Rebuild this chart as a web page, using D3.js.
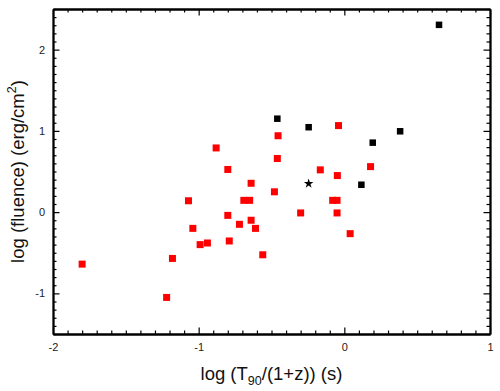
<!DOCTYPE html>
<html><head><meta charset="utf-8">
<script src="https://cdn.jsdelivr.net/npm/d3@7"></script>
<style>body{margin:0;background:#fff}svg{display:block}</style>
</head><body>
<svg id="c" width="500" height="391"></svg>
<script>
// Data (log T90/(1+z), log fluence)
const redX = [-1.80,-1.22,-1.18,-1.07,-1.04,-0.99,-0.94,-0.88,-0.80,-0.80,-0.79,-0.72,-0.69,-0.65,-0.64,-0.64,-0.61,-0.56,-0.48,-0.46,-0.455,-0.30,-0.165,-0.08,-0.05,-0.05,-0.048,-0.04,0.04,0.18];
const redY = [-0.64,-1.05,-0.57,0.14,-0.20,-0.40,-0.38,0.79,0.525,-0.04,-0.355,-0.15,0.145,0.145,0.355,-0.10,-0.20,-0.525,0.25,0.66,0.94,-0.01,0.52,0.145,0.145,-0.01,0.45,1.065,-0.265,0.56];
const blackX = [-0.46,-0.245,0.195,0.117,0.383,0.65];
const blackY = [1.15,1.045,0.855,0.337,0.995,2.305];
const starX = [-0.245];
const starY = [0.357];
const xMajor = [-2,-1,0,1];
const yMajor = [-1,0,1,2];

const W=500,H=391;
const m={l:53,r:10,t:9,b:57};
const svg=d3.select("#c");
const x=d3.scaleLinear().domain([-2,1]).range([m.l,W-m.r]);
const y=d3.scaleLinear().domain([-1.5,2.5]).range([H-m.b,m.t]);
const x0=m.l,x1=W-m.r,y0=H-m.b,y1=m.t;

const xMinor=d3.range(-20,11).map(d=>d/10).filter(d=>!xMajor.includes(Math.round(d*10)/10));
const yMinor=d3.range(-15,26).map(d=>d/10).filter(d=>!yMajor.includes(Math.round(d*10)/10));
const fmt=d=>String(d);

function styleAxis(g){
  g.selectAll("path.domain").attr("stroke","#000").attr("stroke-width",1.8);
  g.selectAll(".tick line").attr("stroke","#000").attr("stroke-width",1.2);
  g.selectAll(".tick text").attr("fill","#222").style("font-family","Liberation Sans, Arial, sans-serif").style("font-size","11px");
}
// bottom
svg.append("g").attr("transform",`translate(0,${y0})`).call(d3.axisBottom(x).tickValues(xMinor).tickSize(-3.5).tickSizeOuter(0).tickFormat("")).call(styleAxis);
svg.append("g").attr("transform",`translate(0,${y0})`).call(d3.axisBottom(x).tickValues(xMajor).tickSize(-6.5).tickSizeOuter(0).tickPadding(9).tickFormat(fmt)).call(styleAxis);
// top
svg.append("g").attr("transform",`translate(0,${y1})`).call(d3.axisTop(x).tickValues(xMinor).tickSize(-3.5).tickSizeOuter(0).tickFormat("")).call(styleAxis);
svg.append("g").attr("transform",`translate(0,${y1})`).call(d3.axisTop(x).tickValues(xMajor).tickSize(-6.5).tickSizeOuter(0).tickFormat("")).call(styleAxis);
// left
svg.append("g").attr("transform",`translate(${x0},0)`).call(d3.axisLeft(y).tickValues(yMinor).tickSize(-3.5).tickSizeOuter(0).tickFormat("")).call(styleAxis);
svg.append("g").attr("transform",`translate(${x0},0)`).call(d3.axisLeft(y).tickValues(yMajor).tickSize(-6.5).tickSizeOuter(0).tickPadding(8).tickFormat(fmt)).call(styleAxis);
// right
svg.append("g").attr("transform",`translate(${x1},0)`).call(d3.axisRight(y).tickValues(yMinor).tickSize(-3.5).tickSizeOuter(0).tickFormat("")).call(styleAxis);
svg.append("g").attr("transform",`translate(${x1},0)`).call(d3.axisRight(y).tickValues(yMajor).tickSize(-6.5).tickSizeOuter(0).tickFormat("")).call(styleAxis);

// points
const red=redX.map((v,i)=>[v,redY[i]]);
const blk=blackX.map((v,i)=>[v,blackY[i]]);
const rs=7, bs=6.5;
svg.append("g").selectAll("rect").data(red).join("rect")
  .attr("x",d=>x(d[0])-rs/2).attr("y",d=>y(d[1])-rs/2).attr("width",rs).attr("height",rs).attr("fill","#ff0000");
svg.append("g").selectAll("rect").data(blk).join("rect")
  .attr("x",d=>x(d[0])-bs/2).attr("y",d=>y(d[1])-bs/2).attr("width",bs).attr("height",bs).attr("fill","#000");
const star=d3.symbol().type(d3.symbolStar).size(28);
svg.append("g").selectAll("path").data(starX.map((v,i)=>[v,starY[i]])).join("path")
  .attr("transform",d=>`translate(${x(d[0])},${y(d[1])+0.5})`).attr("d",star).attr("fill","#000");

// axis titles
const ff="Liberation Sans, Arial, sans-serif";
const xt=svg.append("text").attr("x",(x0+x1)/2).attr("y",380).attr("text-anchor","middle")
  .style("font-family",ff).style("font-size","18.5px").attr("fill","#111");
xt.append("tspan").text("log (T");
xt.append("tspan").text("90").style("font-size","12.5px").attr("dy",5);
xt.append("tspan").text("/(1+z)) (s)").attr("dy",-5);

const yt=svg.append("text").attr("transform",`translate(24,${(y0+y1)/2}) rotate(-90)`).attr("text-anchor","middle")
  .style("font-family",ff).style("font-size","18.5px").attr("fill","#111");
yt.append("tspan").text("log (fluence) (erg/cm");
yt.append("tspan").text("2").style("font-size","12.5px").attr("dy",-8);
yt.append("tspan").text(")").attr("dy",8);
</script>
</body></html>
